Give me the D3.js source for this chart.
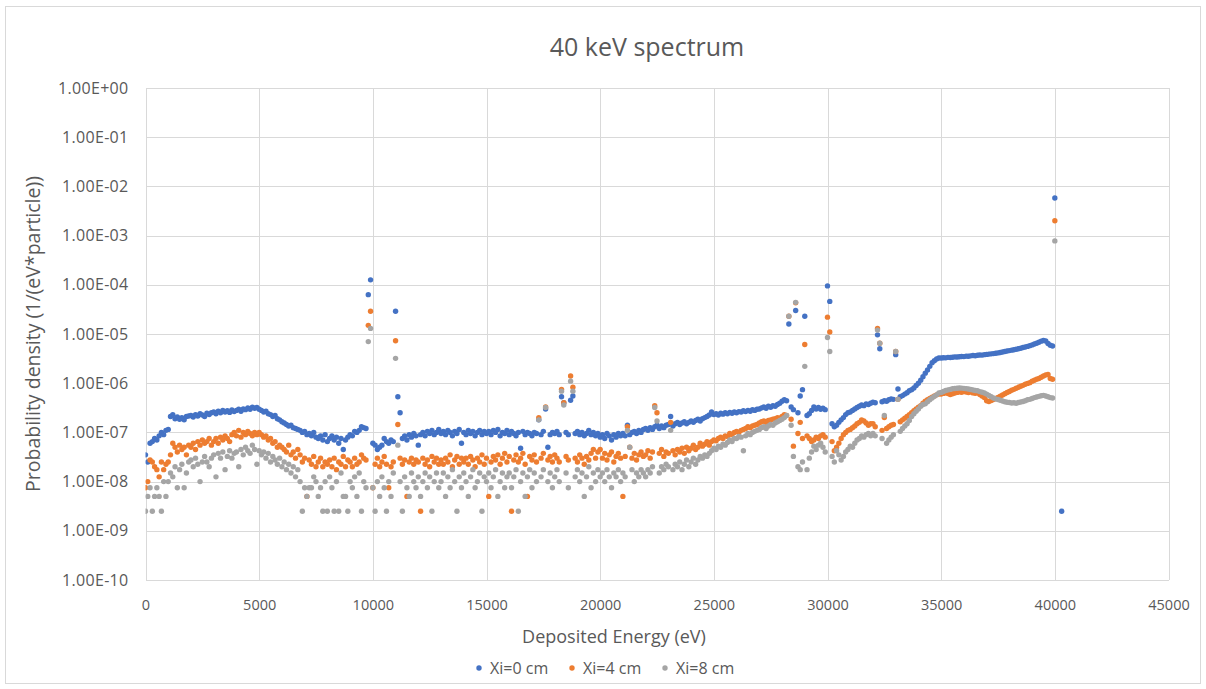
<!DOCTYPE html>
<html>
<head>
<meta charset="utf-8">
<script src="https://cdn.jsdelivr.net/npm/d3@7"></script>
<style>
  body { margin: 0; background: #ffffff; }
  text { font-family: "Open Sans", "Noto Sans", sans-serif; fill: #595959; }
</style>
</head>
<body>
<svg id="chart" width="1206" height="689"></svg>
<script>
// Deposited-energy histogram: 100 eV bins starting at 0 eV.
// Each entry is the number of counts in the bin; one count corresponds to
// a probability density of 2.5e-9 per eV per particle.
const binWidthEV = 100;
const densityPerCount = 2.5e-9;

const countsXi0 = [
  14, 10, 24, 26, 30, 28, 34, 40, 36, 44,
  46, 84, 92, 76, 82, 74, 80, 72, 84, 86,
  88, 82, 92, 86, 96, 90, 84, 98, 92, 100,
  104, 96, 108, 100, 112, 104, 110, 102, 114, 106,
  112, 118, 108, 120, 116, 126, 118, 130, 124, 128,
  118, 112, 104, 108, 96, 92, 84, 88, 76, 72,
  66, 62, 58, 54, 56, 50, 48, 46, 44, 40,
  42, 36, 38, 34, 40, 32, 30, 34, 28, 36,
  26, 30, 34, 28, 32, 24, 30, 18, 28, 32,
  36, 34, 42, 40, 44, 52, 50, 48, 25200, 50400,
  24, 22, 18, 20, 22, 30, 26, 24, 28, 26,
  11600, 212, 100, 30, 34, 28, 36, 32, 38, 34,
  22, 36, 40, 34, 42, 38, 44, 36, 40, 46,
  38, 42, 36, 44, 40, 34, 42, 38, 46, 24,
  40, 36, 44, 38, 42, 34, 40, 44, 36, 42,
  38, 42, 36, 44, 40, 46, 34, 40, 38, 44,
  36, 42, 38, 34, 40, 19, 42, 36, 40, 38,
  34, 40, 38, 72, 36, 42, 120, 20, 36, 40,
  38, 42, 36, 212, 160, 40, 36, 180, 220, 38,
  42, 36, 40, 34, 38, 44, 36, 40, 34, 38,
  32, 36, 30, 38, 34, 28, 36, 32, 38, 34,
  38, 34, 56, 36, 40, 42, 38, 44, 40, 46,
  48, 44, 50, 46, 52, 56, 48, 54, 50, 56,
  58, 84, 54, 60, 64, 58, 62, 66, 60, 64,
  68, 64, 70, 74, 68, 76, 80, 84, 90, 104,
  92, 96, 90, 98, 94, 100, 96, 102, 98, 104,
  100, 106, 104, 110, 106, 112, 108, 116, 112, 118,
  120, 126, 132, 124, 136, 130, 140, 136, 148, 156,
  172, 184, 176, 6400, 132, 116, 12000, 100, 220, 296,
  9200, 88, 96, 112, 132, 120, 128, 118, 124, 116,
  38000, 18400, 60, 52, 56, 64, 72, 80, 92, 100,
  104, 112, 120, 128, 136, 144, 140, 152, 148, 156,
  164, 160, 3840, 2000, 168, 176, 172, 184, 192, 188,
  1520, 304, 212, 224, 240, 256, 280, 296, 320, 360,
  400, 460, 540, 640, 740, 880, 1040, 1140, 1240, 1300,
  1300, 1320, 1310, 1340, 1330, 1350, 1370, 1360, 1380, 1400,
  1390, 1420, 1410, 1440, 1460, 1450, 1480, 1500, 1490, 1520,
  1540, 1560, 1580, 1600, 1620, 1650, 1680, 1720, 1760, 1800,
  1840, 1880, 1920, 1960, 2000, 2060, 2120, 2180, 2240, 2320,
  2400, 2500, 2600, 2720, 2860, 2960, 2880, 2560, 2360, 2280,
  2320000, null, null, 1
];

const countsXi4 = [
  3, 4, 11, 10, 8, 7, 5, 10, 7, 9,
  10, 14, 24, 20, 16, 22, 18, 20, 14, 22,
  20, 24, 18, 26, 22, 28, 24, 26, 30, 22,
  26, 30, 24, 32, 28, 34, 30, 26, 36, 40,
  34, 44, 32, 40, 36, 42, 38, 34, 40, 36,
  40, 36, 32, 34, 28, 30, 24, 26, 20, 22,
  20, 18, 16, 22, 14, 16, 12, 18, 14, 10,
  12, 2, 11, 9, 13, 8, 10, 12, 8, 10,
  9, 11, 8, 12, 7, 10, 9, 13, 8, 11,
  10, 8, 12, 9, 10, 14, 12, 11, 6000, 11600,
  3, 9, 12, 8, 10, 13, 9, 3, 8, 10,
  2920, 58, 12, 9, 11, 2, 10, 12, 9, 11,
  10, 1, 12, 9, 11, 8, 13, 10, 12, 9,
  11, 9, 12, 10, 14, 8, 11, 13, 9, 12,
  10, 12, 9, 13, 11, 8, 12, 10, 14, 9,
  12, 2, 10, 13, 11, 14, 9, 12, 15, 10,
  13, 1, 11, 14, 10, 12, 15, 9, 2, 13,
  11, 14, 10, 80, 12, 15, 132, 11, 13, 10,
  14, 12, 10, 300, 160, 13, 11, 560, 332, 12,
  10, 14, 12, 9, 13, 11, 15, 18, 12, 16,
  18, 12, 15, 11, 14, 16, 10, 13, 15, 12,
  2, 13, 52, 20, 12, 15, 11, 14, 16, 13,
  14, 17, 12, 16, 140, 100, 15, 18, 13, 16,
  15, 64, 17, 14, 18, 16, 19, 15, 20, 17,
  19, 22, 18, 20, 24, 21, 23, 26, 22, 26,
  28, 27, 30, 32, 30, 34, 33, 38, 36, 40,
  42, 40, 44, 46, 48, 52, 50, 54, 56, 58,
  62, 66, 68, 64, 70, 72, 74, 76, 80, 78,
  84, 92, 88, 9200, 74, 21, 17200, 38, 64, 30,
  2440, 34, 30, 26, 28, 32, 30, 34, 36, 32,
  8800, 4400, 26, 17, 20, 24, 30, 36, 40, 44,
  46, 50, 54, 60, 64, 72, 68, 62, 56, 60,
  60, 52, 5200, 2600, 44, 80, 48, 52, 56, 58,
  1760, 188, 66, 72, 78, 84, 92, 100, 110, 120,
  130, 140, 156, 172, 184, 196, 208, 220, 232, 240,
  240, 248, 256, 246, 236, 244, 252, 260, 266, 262,
  270, 264, 258, 266, 254, 250, 256, 236, 220, 204,
  176, 170, 178, 186, 196, 206, 218, 230, 244, 258,
  272, 288, 300, 316, 330, 346, 362, 380, 396, 410,
  440, 460, 480, 500, 530, 560, 590, 600, 500, 480,
  800000
];

const countsXi8 = [
  1, 2, 3, 1, 2, 3, 2, 1, 4, 2,
  4, 6, 5, 8, 3, 7, 9, 3, 6, 10,
  11, 8, 12, 9, 4, 10, 13, 10, 8, 12,
  14, 5, 15, 12, 16, 7, 13, 17, 12, 15,
  16, 8, 18, 14, 20, 17, 15, 22, 18, 9,
  17, 14, 16, 12, 15, 10, 13, 11, 9, 12,
  8, 10, 7, 9, 6, 8, 5, 7, 4, 1,
  3, 2, 3, 3, 5, 4, 2, 3, 1, 4,
  1, 5, 3, 1, 4, 1, 6, 2, 2, 1,
  4, 3, 5, 2, 6, 1, 4, 3, 2800, 5200,
  3, 1, 4, 2, 5, 3, 1, 4, 2, 6,
  1280, 22, 4, 1, 5, 3, 2, 6, 4, 3,
  5, 2, 4, 6, 3, 5, 1, 4, 6, 3,
  4, 6, 2, 5, 3, 7, 4, 1, 5, 3,
  6, 4, 2, 5, 7, 3, 4, 6, 1, 5,
  4, 6, 3, 5, 7, 2, 4, 6, 3, 5,
  6, 3, 5, 7, 1, 4, 6, 2, 5, 7,
  3, 6, 4, 72, 5, 7, 128, 4, 6, 3,
  5, 7, 4, 276, 144, 6, 3, 440, 276, 5,
  7, 4, 6, 2, 5, 8, 3, 6, 4, 7,
  5, 6, 4, 7, 5, 3, 6, 5, 7, 4,
  6, 5, 44, 20, 7, 4, 6, 5, 7, 6,
  5, 7, 6, 8, 128, 68, 6, 8, 7, 9,
  8, 44, 7, 9, 8, 10, 7, 9, 11, 8,
  10, 12, 9, 11, 13, 12, 14, 13, 15, 17,
  19, 18, 21, 20, 23, 22, 25, 28, 26, 30,
  30, 33, 32, 17, 34, 38, 36, 40, 42, 44,
  46, 50, 52, 48, 54, 58, 56, 62, 66, 70,
  74, 80, 88, 9200, 56, 13, 17600, 8, 7, 10,
  880, 7, 12, 16, 21, 18, 22, 24, 20, 16,
  3400, 1760, 13, 10, 17, 14, 11, 13, 16, 18,
  21, 20, 24, 28, 30, 34, 32, 36, 38, 34,
  38, 34, 4800, 2600, 30, 88, 24, 28, 32, 36,
  1760, 188, 42, 48, 54, 60, 70, 84, 96, 108,
  120, 136, 148, 152, 168, 184, 200, 216, 232, 252,
  260, 272, 284, 292, 300, 308, 312, 316, 320, 318,
  314, 310, 304, 298, 290, 284, 280, 270, 262, 252,
  240, 226, 212, 200, 192, 186, 180, 174, 168, 164,
  162, 158, 160, 156, 162, 166, 170, 176, 184, 188,
  196, 204, 210, 216, 222, 226, 220, 212, 204, 200,
  312000
];

const seriesNames = ["Xi=0 cm", "Xi=4 cm", "Xi=8 cm"];
const seriesColors = ["#4472C4", "#ED7D31", "#A5A5A5"];
const xTickValues = [0, 5000, 10000, 15000, 20000, 25000, 30000, 35000, 40000, 45000];
const yTickValues = [1e0, 1e-1, 1e-2, 1e-3, 1e-4, 1e-5, 1e-6, 1e-7, 1e-8, 1e-9, 1e-10];
const yTickLabels = ["1.00E+00", "1.00E-01", "1.00E-02", "1.00E-03", "1.00E-04", "1.00E-05",
                     "1.00E-06", "1.00E-07", "1.00E-08", "1.00E-09", "1.00E-10"];
const chartTitle = "40 keV spectrum";
const xAxisTitle = "Deposited Energy (eV)";
const yAxisTitle = "Probability density (1/(eV*particle))";

// ---- layout ----
const svg = d3.select("#chart");
const W = 1206, H = 689;
const plot = { left: 145.5, right: 1168.5, top: 88, bottom: 580 };
const gridColor = "#D9D9D9";

svg.append("rect").attr("x", 0).attr("y", 0).attr("width", W).attr("height", H).attr("fill", "#fff");
svg.append("rect")
  .attr("x", 5.5).attr("y", 6.5).attr("width", 1195).attr("height", 677)
  .attr("fill", "none").attr("stroke", gridColor).attr("stroke-width", 1);

const x = d3.scaleLinear().domain([0, 45000]).range([plot.left, plot.right]);
const y = d3.scaleLog().domain([1e-10, 1]).range([plot.bottom, plot.top]);

// horizontal gridlines + y tick labels
const yAxis = d3.axisLeft(y)
  .tickValues(yTickValues)
  .tickFormat((d, i) => yTickLabels[i])
  .tickSize(-(plot.right - plot.left))
  .tickPadding(17);
const gy = svg.append("g").attr("transform", `translate(${plot.left},0)`).call(yAxis);
gy.select(".domain").remove();
gy.selectAll(".tick line").attr("stroke", gridColor).attr("shape-rendering", "crispEdges");
gy.selectAll(".tick text").attr("font-size", 16).attr("letter-spacing", 0.3).attr("fill", "#595959")
  .style("font-family", '"Open Sans", sans-serif');

// vertical gridlines + x tick labels
const xAxis = d3.axisBottom(x)
  .tickValues(xTickValues)
  .tickFormat(d3.format("d"))
  .tickSize(-(plot.bottom - plot.top))
  .tickPadding(20);
const gx = svg.append("g").attr("transform", `translate(0,${plot.bottom})`).call(xAxis);
gx.select(".domain").remove();
gx.selectAll(".tick line").attr("stroke", gridColor).attr("shape-rendering", "crispEdges");
gx.selectAll(".tick text").attr("font-size", 14.5).attr("fill", "#595959")
  .style("font-family", '"Open Sans", sans-serif');

// ---- points ----
const allCounts = [countsXi0, countsXi4, countsXi8];
const points = [];
allCounts.forEach((counts, s) => {
  counts.forEach((c, i) => {
    if (c === null) return;
    points.push({ s, energy: i * binWidthEV, density: c * densityPerCount });
  });
});

svg.append("clipPath").attr("id", "plotClip")
  .append("rect").attr("x", plot.left).attr("y", plot.top - 4)
  .attr("width", plot.right - plot.left).attr("height", plot.bottom - plot.top + 4);

const gPts = svg.append("g").attr("clip-path", "url(#plotClip)");
[0, 1, 2].forEach(s => {
  gPts.append("g").selectAll("circle")
    .data(points.filter(p => p.s === s))
    .join("circle")
    .attr("cx", d => x(d.energy))
    .attr("cy", d => y(d.density))
    .attr("r", 2.7)
    .attr("fill", seriesColors[s]);
});

// ---- titles ----
svg.append("text").attr("x", 647).attr("y", 56).attr("text-anchor", "middle")
  .attr("font-size", 25).text(chartTitle);
svg.append("text").attr("x", 614).attr("y", 643).attr("text-anchor", "middle")
  .attr("font-size", 18).text(xAxisTitle);
svg.append("text").attr("transform", "translate(40,334) rotate(-90)")
  .attr("text-anchor", "middle").attr("font-size", 19.5).text(yAxisTitle);

// ---- legend ----
const legendX = [479, 572, 665];
const legend = svg.append("g");
seriesNames.forEach((name, i) => {
  legend.append("circle").attr("cx", legendX[i]).attr("cy", 668).attr("r", 2.7)
    .attr("fill", seriesColors[i]);
  legend.append("text").attr("x", legendX[i] + 11).attr("y", 673.5)
    .attr("font-size", 16).text(name);
});
</script>
</body>
</html>
